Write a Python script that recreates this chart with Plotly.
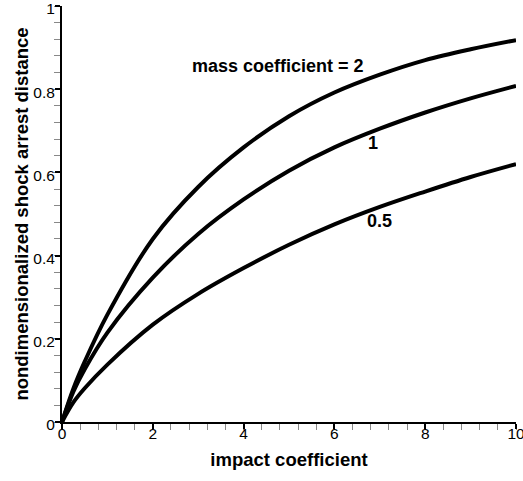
import plotly.graph_objects as go

# impact coefficient samples
impact = [0, 0.25, 0.5, 1, 2, 3, 4, 5, 6, 7, 8, 9, 10]

# nondimensionalized shock arrest distance
mass_2 = [0, 0.080, 0.145, 0.258, 0.440, 0.565, 0.660, 0.735, 0.792, 0.835, 0.870, 0.896, 0.918]
mass_1 = [0, 0.073, 0.127, 0.215, 0.347, 0.452, 0.535, 0.604, 0.660, 0.705, 0.744, 0.778, 0.808]
mass_05 = [0, 0.047, 0.081, 0.138, 0.234, 0.308, 0.370, 0.426, 0.475, 0.517, 0.554, 0.589, 0.620]

series = [("2", mass_2), ("1", mass_1), ("0.5", mass_05)]

# label text and positions (data coordinates)
labels = ["mass coefficient = 2", "1", "0.5"]
label_x = [4.75, 6.85, 7.0]
label_y = [0.856, 0.671, 0.482]

x_ticks = [0, 2, 4, 6, 8, 10]
y_ticks = [0, 0.2, 0.4, 0.6, 0.8, 1]
y_tick_text = ["0", "0.2", "0.4", "0.6", "0.8", "1"]

FONT = "Liberation Sans, Arial, sans-serif"

fig = go.Figure()
for name, vals in series:
    fig.add_trace(go.Scatter(
        x=impact, y=vals, mode="lines", name=name,
        line=dict(color="black", width=4, shape="spline", smoothing=1.0),
        showlegend=False, cliponaxis=False,
    ))

for t, xx, yy in zip(labels, label_x, label_y):
    fig.add_annotation(
        x=xx, y=yy, text=t, showarrow=False,
        font=dict(family=FONT, size=18, color="black", weight="bold"),
        xanchor="center", yanchor="middle",
    )

axis_common = dict(
    showline=True, linecolor="black", linewidth=2,
    showgrid=False, zeroline=False,
    ticks="outside", ticklen=5, tickwidth=2, tickcolor="black",
    tickfont=dict(family=FONT, size=15.5, color="black"),
    ticklabeloverflow="allow",
)

fig.update_xaxes(
    range=[0, 10], tickvals=x_ticks, ticktext=[str(v) for v in x_ticks],
    minor=dict(dtick=0.4, ticks="outside", ticklen=6, tickwidth=1, tickcolor="#888"),
    title=dict(text="impact coefficient", standoff=12,
               font=dict(family=FONT, size=18.5, color="black", weight="bold")),
    ticklabelstandoff=-9,
    **axis_common,
)
fig.update_yaxes(
    range=[0, 1], tickvals=y_ticks, ticktext=y_tick_text,
    minor=dict(dtick=0.04, ticks="outside", ticklen=6, tickwidth=1, tickcolor="#888"),
    title=dict(text="nondimensionalized shock arrest distance", standoff=0,
               font=dict(family=FONT, size=18.5, color="black", weight="bold")),
    ticklabelstandoff=-3,
    ticklabelshift=3,
    **axis_common,
)

fig.update_layout(
    width=523, height=481,
    margin=dict(l=62, r=7, t=6, b=59, autoexpand=False),
    plot_bgcolor="white", paper_bgcolor="white",
)

fig.write_html("out.html")
